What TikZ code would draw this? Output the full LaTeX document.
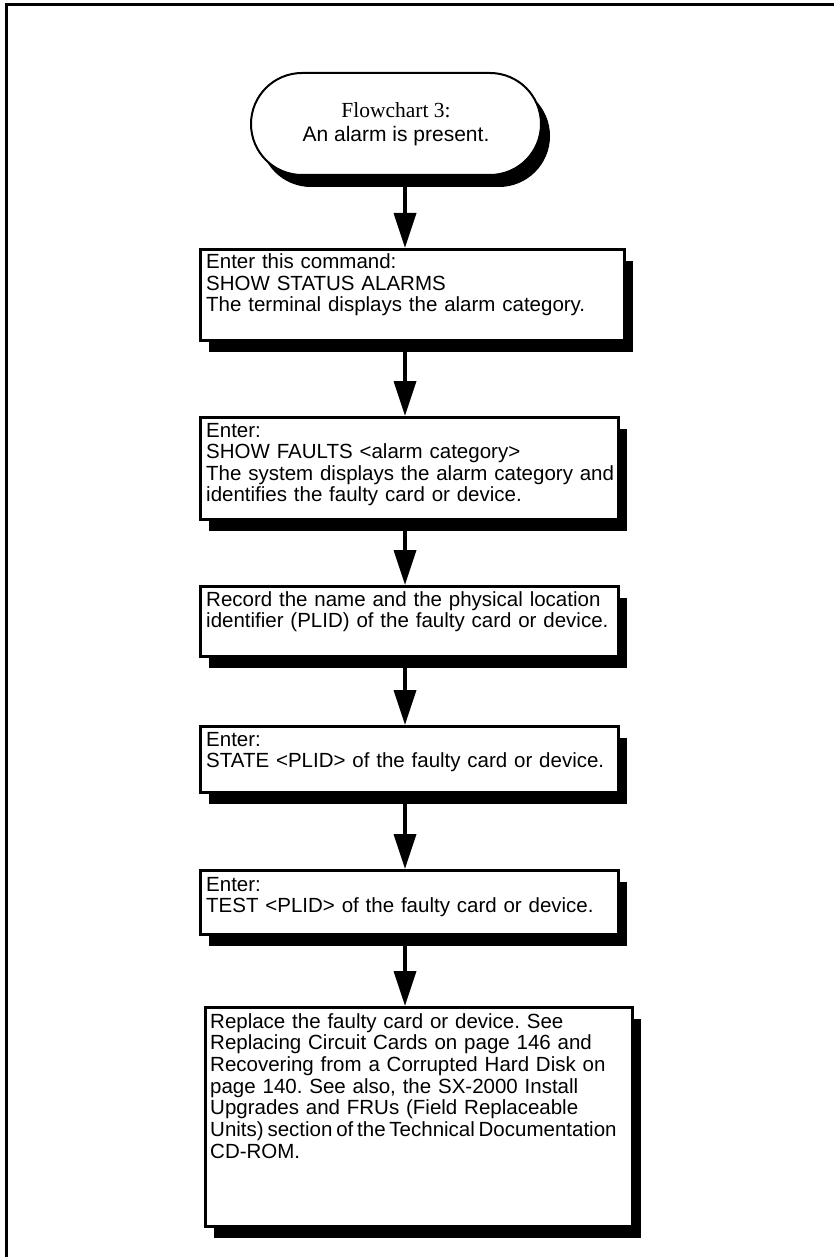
\documentclass[tikz,border=0pt]{standalone}
\usepackage{fontspec}
\setmainfont{Liberation Sans}
\newfontfamily\timesface{Liberation Serif}
\usetikzlibrary{arrows.meta,shadows,shapes.misc}
\frenchspacing

\tikzset{
  boxshadow/.style={general shadow={fill=black, shadow xshift=9pt, shadow yshift=-12pt}},
  stepbox/.style={draw, line width=2.8pt, fill=white, boxshadow, anchor=north west, inner sep=0pt},
  steptext/.style={anchor=base west, inner sep=0pt, text width=440pt, align=left,
    font=\fontsize{20.5}{21.5}\selectfont},
  flow/.style={line width=3.5pt, -{Triangle[length=35pt, width=22pt]}},
}

\begin{document}
\begin{tikzpicture}[x=1pt, y=-1pt]
    \useasboundingbox (0,0) rectangle (834,1257);
    % frame of the page
    \draw[line width=3pt] (6.5,1257) -- (6.5,4.5) -- (834,4.5);
    \coordinate (axis) at (405,0);

    \node[draw, line width=2pt, fill=white, rounded rectangle, boxshadow,
          minimum width=290pt, minimum height=102pt, align=center, inner sep=0pt,
          font=\fontsize{21}{24}\selectfont] (start) at (396,124)
          {{\timesface\fontsize{21.5}{24}\selectfont Flowchart 3:}\\An alarm is present.};

    \node[stepbox, minimum width=424pt, minimum height=91pt] (cmd) at (199,248) {};
    \node[steptext] (cmdtext) at (206,269)
          {Enter this command:\\SHOW STATUS ALARMS\\The terminal displays the alarm category.};

    \node[stepbox, minimum width=418pt, minimum height=102pt] (faults) at (199,416) {};
    \node[steptext] (faultstext) at (206,437)
          {Enter:\\SHOW FAULTS <alarm category>\\The system displays the alarm category and\\identifies the faulty card or device.};

    \node[stepbox, minimum width=418pt, minimum height=70pt] (record) at (199,585) {};
    \node[steptext] (recordtext) at (206,606)
          {Record the name and the physical location\\identifier (PLID) of the faulty card or device.};

    \node[stepbox, minimum width=418pt, minimum height=66pt] (state) at (199,725) {};
    \node[steptext] (statetext) at (206,746)
          {Enter:\\STATE <PLID> of the faulty card or device.};

    \node[stepbox, minimum width=418pt, minimum height=64pt] (test) at (199,869) {};
    \node[steptext] (testtext) at (206,891)
          {Enter:\\TEST <PLID> of the faulty card or device.};

    \node[stepbox, minimum width=427pt, minimum height=219pt] (replace) at (204,1006) {};
    \node[steptext, font=\fontsize{20.5}{21.7}\selectfont] (replacetext) at (210,1028)
          {Replace the faulty card or device. See\\Replacing Circuit Cards on page 146 and\\Recovering from a Corrupted Hard Disk on\\page 140. See also, the SX-2000 Install\\Upgrades and FRUs (Field Replaceable\\{\spaceskip=3.8pt Units) section of the Technical Documentation}\\CD-ROM.};

    \draw[flow] (start.south -| axis) -- (cmd.north -| axis);
    \draw[flow] (cmd.south -| axis) -- (faults.north -| axis);
    \draw[flow] (faults.south -| axis) -- (record.north -| axis);
    \draw[flow] (record.south -| axis) -- (state.north -| axis);
    \draw[flow] (state.south -| axis) -- (test.north -| axis);
    \draw[flow] (test.south -| axis) -- (replace.north -| axis);
\end{tikzpicture}
\end{document}
